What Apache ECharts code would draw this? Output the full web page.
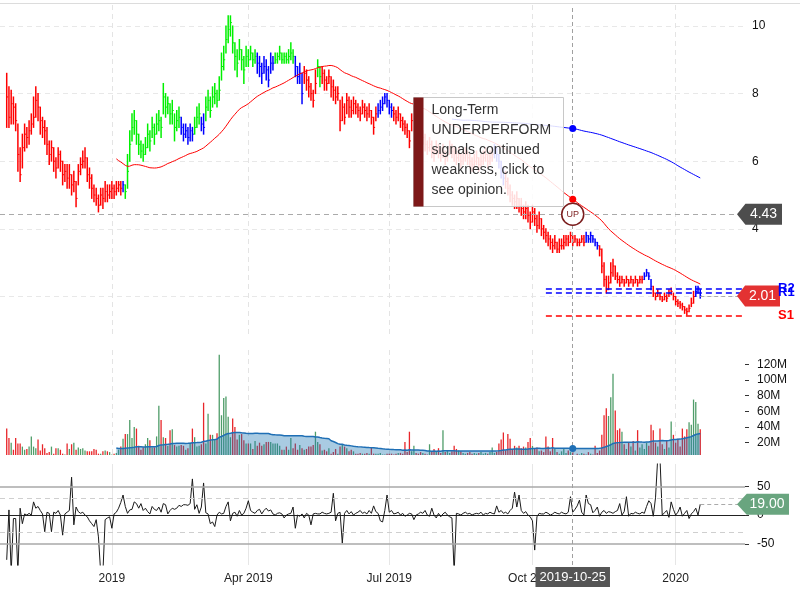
<!DOCTYPE html>
<html><head><meta charset="utf-8">
<script src="https://cdn.jsdelivr.net/npm/echarts@6/dist/echarts.min.js"></script>
<style>html,body{margin:0;padding:0;background:#fff}#c{width:800px;height:600px}</style>
</head><body><div id="c"></div>
<script>
// ---------------- DATA ----------------
const holidays = ['2018-11-22','2018-12-05','2018-12-25','2019-01-01','2019-01-21','2019-02-18','2019-04-19','2019-05-27','2019-07-04','2019-09-02','2019-11-28','2019-12-25','2020-01-01','2020-01-20','2020-02-17'];
const axisStart = '2018-10-18';
const axisLength = 334;
const dataStart = '2018-10-23';

const close = [7.9,7.3,7.7,7.6,7.2,6.2,5.6,6.4,6.8,6.7,6.9,7.1,7.3,7.8,7.6,7.2,7.0,6.9,6.5,6.2,
6.4,6.0,5.8,6.2,6.0,5.6,5.7,5.5,5.6,5.3,5.4,4.9,5.7,5.9,6.0,6.1,5.6,5.5,5.2,5.0,
4.9,4.7,5.0,4.9,5.1,5.0,5.1,5.2,5.1,5.2,5.3,5.2,5.3,5.1,5.7,6.5,7.0,7.2,6.8,6.5,
6.3,6.2,6.4,6.8,6.6,7.0,6.8,7.1,7.2,7.0,7.9,7.6,7.7,7.4,7.5,7.0,7.2,7.3,7.0,6.8,
6.9,6.7,6.9,6.8,7.0,7.3,7.4,7.1,7.0,7.6,7.8,7.5,7.9,8.0,7.8,8.1,8.8,9.0,9.6,9.9,
10.1,9.5,9.1,8.9,9.3,9.0,8.7,9.1,9.0,9.2,9.0,9.1,8.9,8.8,8.6,8.8,8.7,8.4,8.9,8.9,
9.0,9.1,9.2,9.0,9.1,9.0,9.1,9.2,9.1,8.8,8.5,8.6,8.0,8.6,8.4,8.2,8.0,7.8,8.3,8.8,
8.5,8.6,8.4,8.3,8.5,8.2,8.1,7.9,8.0,7.2,7.6,7.3,7.8,7.6,7.5,7.7,7.6,7.5,7.4,7.6,
7.5,7.4,7.5,7.3,7.0,7.4,7.5,7.6,7.7,7.9,7.8,7.6,7.5,7.4,7.3,7.4,7.2,7.1,7.0,6.9,
6.6,7.2,7.3,7.0,6.8,6.6,6.7,6.5,6.4,6.5,6.3,6.2,6.4,6.3,6.2,6.3,6.1,6.2,6.4,6.3,
6.2,6.1,6.2,6.0,6.1,6.2,6.1,6.0,5.9,6.0,6.1,5.9,6.0,6.1,6.2,6.0,6.1,6.2,6.3,6.2,
6.0,5.8,5.5,5.4,5.2,5.0,4.9,4.8,4.9,4.7,4.6,4.5,4.6,4.4,4.2,4.5,4.3,4.1,4.3,4.0,
3.9,3.8,3.7,3.6,3.5,3.6,3.4,3.5,3.5,3.6,3.7,3.6,3.8,3.6,3.7,3.6,3.6,3.7,3.6,3.8,
3.7,3.8,3.7,3.6,3.5,3.4,2.9,2.5,2.2,2.4,2.7,2.9,2.6,2.5,2.4,2.5,2.4,2.5,2.4,2.5,
2.4,2.5,2.4,2.5,2.5,2.6,2.7,2.6,2.3,2.1,2.0,2.1,2.0,1.9,2.0,1.95,2.1,2.15,2.0,1.85,
1.8,1.75,1.7,1.6,1.55,1.65,1.8,2.0,2.15,2.25,2.01];

const high = [8.6,8.2,8.1,7.9,7.7,7.1,6.4,6.8,7.1,7.0,7.2,7.4,7.9,8.2,8.0,7.6,7.3,7.2,7.0,6.6,
6.6,6.4,6.1,6.4,6.3,6.0,5.9,5.9,5.9,5.6,5.7,5.4,5.9,6.1,6.3,6.4,6.1,5.8,5.6,5.3,
5.2,5.0,5.2,5.2,5.4,5.3,5.3,5.4,5.3,5.4,5.4,5.4,5.4,5.3,6.2,6.9,7.4,7.5,7.2,6.8,
6.6,6.5,6.7,7.1,6.9,7.3,7.1,7.4,7.5,7.3,8.3,8.0,7.9,7.7,7.8,7.4,7.5,7.6,7.3,7.1,
7.1,7.0,7.1,7.0,7.3,7.6,7.7,7.3,7.4,7.9,8.1,7.9,8.2,8.3,8.1,8.5,9.2,9.4,10.0,10.3,
10.3,10.0,9.5,9.3,9.6,9.3,9.1,9.4,9.3,9.4,9.2,9.3,9.2,9.1,8.9,9.1,9.0,8.8,9.2,9.1,
9.2,9.2,9.4,9.2,9.2,9.2,9.3,9.5,9.3,9.1,8.8,8.9,8.6,8.8,8.7,8.5,8.3,8.1,8.7,9.0,
8.8,8.8,8.7,8.5,8.7,8.5,8.4,8.2,8.2,7.8,7.9,7.7,8.0,7.9,7.8,7.9,7.8,7.7,7.6,7.8,
7.7,7.6,7.7,7.5,7.3,7.6,7.7,7.8,7.9,8.0,8.0,7.8,7.7,7.6,7.5,7.6,7.4,7.3,7.2,7.1,
6.9,7.4,7.5,7.3,7.0,6.9,6.9,6.8,6.6,6.7,6.6,6.4,6.6,6.5,6.4,6.5,6.3,6.4,6.6,6.5,
6.4,6.3,6.4,6.2,6.3,6.4,6.3,6.2,6.1,6.2,6.3,6.1,6.2,6.3,6.4,6.2,6.3,6.4,6.5,6.4,
6.2,6.0,5.8,5.7,5.5,5.3,5.1,5.0,5.1,4.9,4.9,4.7,4.8,4.7,4.5,4.7,4.6,4.4,4.5,4.3,
4.1,4.0,3.9,3.8,3.7,3.8,3.6,3.7,3.7,3.8,3.8,3.8,3.9,3.8,3.8,3.7,3.7,3.8,3.8,3.9,
3.8,3.9,3.8,3.7,3.6,3.5,3.4,3.0,2.6,2.6,3.0,3.1,2.9,2.7,2.6,2.6,2.5,2.6,2.5,2.6,
2.5,2.6,2.5,2.6,2.6,2.7,2.8,2.7,2.5,2.3,2.1,2.2,2.1,2.0,2.1,2.05,2.2,2.25,2.1,2.0,
1.9,1.85,1.8,1.7,1.65,1.75,1.95,2.15,2.3,2.3,2.2];

const low = [7.0,7.0,7.1,7.1,6.9,5.7,5.4,5.8,6.3,6.4,6.5,6.8,7.0,7.3,7.2,6.8,6.7,6.5,6.2,5.9,
6.0,5.7,5.5,5.8,5.7,5.3,5.4,5.2,5.2,5.0,5.1,4.65,5.3,5.6,5.8,5.8,5.4,5.2,4.9,4.8,
4.7,4.5,4.7,4.6,4.8,4.8,4.9,4.9,4.9,5.0,5.1,5.0,5.1,4.9,5.2,6.0,6.6,6.8,6.5,6.2,
6.1,6.0,6.2,6.4,6.3,6.7,6.5,6.8,6.9,6.7,7.4,7.3,7.4,7.1,7.1,6.6,6.9,7.0,6.8,6.6,
6.7,6.5,6.6,6.6,6.8,7.0,7.1,6.9,6.8,7.2,7.5,7.3,7.6,7.7,7.6,7.8,8.4,8.7,9.2,9.5,
9.7,9.2,8.7,8.5,9.0,8.7,8.3,8.8,8.8,9.0,8.8,8.9,8.6,8.5,8.3,8.6,8.4,8.2,8.6,8.7,
8.9,8.9,9.0,8.9,8.9,8.9,8.9,9.0,8.9,8.5,8.3,8.3,7.7,8.3,8.1,7.9,7.8,7.6,8.0,8.5,
8.2,8.3,8.1,8.1,8.3,7.9,7.8,7.7,7.8,6.9,7.2,7.1,7.4,7.3,7.3,7.4,7.4,7.3,7.2,7.4,
7.3,7.2,7.3,7.1,6.8,7.2,7.3,7.4,7.5,7.7,7.6,7.4,7.3,7.2,7.1,7.2,7.0,6.9,6.8,6.7,
6.4,6.9,7.0,6.8,6.6,6.4,6.5,6.3,6.2,6.3,6.1,6.0,6.2,6.1,6.0,6.1,5.9,6.0,6.2,6.1,
6.0,5.9,6.0,5.8,5.9,6.0,5.9,5.8,5.7,5.8,5.9,5.7,5.8,5.9,6.0,5.8,5.9,6.0,6.1,6.0,
5.8,5.5,5.3,5.2,5.0,4.8,4.7,4.6,4.6,4.5,4.4,4.3,4.3,4.2,4.0,4.2,4.1,3.9,4.0,3.8,
3.7,3.6,3.5,3.4,3.3,3.4,3.3,3.3,3.4,3.4,3.5,3.5,3.6,3.5,3.6,3.5,3.5,3.6,3.5,3.6,
3.6,3.6,3.6,3.5,3.4,3.2,2.7,2.3,2.1,2.2,2.4,2.6,2.5,2.4,2.3,2.4,2.3,2.4,2.3,2.4,
2.3,2.4,2.3,2.4,2.4,2.5,2.6,2.5,2.2,2.0,1.9,2.0,1.9,1.85,1.9,1.85,2.0,2.05,1.9,1.75,
1.7,1.65,1.6,1.5,1.45,1.55,1.7,1.8,2.0,2.1,1.95];

// rating runs: U = underperform, O = outperform, N = neutral  [rating, number of days]
const ratingRuns = [['U',52],['N',1],['O',25],['N',6],['O',3],['N',2],['O',23],['N',8],['O',9],['N',4],['U',6],['O',2],['U',25],['N',7],['U',45],['N',5],['U',36],['N',6],['U',20],['N',4],['U',19],['N',3]];

// daily volume, millions
const volume = [38,26,20,11,26,19,19,15,11,12,15,28,15,13,24,10,18,13,7,8,
15,6,13,13,11,6,5,19,12,18,20,11,14,12,13,10,9,9,9,12,
11,6,6,9,10,9,8,5,6,7,11,15,25,31,31,49,26,40,38,16,
11,14,18,26,23,14,14,28,67,49,27,26,16,36,37,17,15,16,17,16,
11,13,20,38,27,15,16,18,71,19,57,30,30,24,32,132,55,77,79,53,
27,51,40,24,30,31,23,19,19,19,12,22,16,20,16,18,21,21,21,19,
19,19,16,11,11,15,11,26,13,19,11,17,13,11,12,15,15,17,34,21,
18,10,11,9,13,6,8,12,6,15,18,15,13,9,11,9,6,6,7,6,
6,7,6,14,6,6,6,7,5,5,6,6,6,5,6,7,7,6,21,8,
34,9,16,7,6,8,7,6,5,18,9,12,8,13,7,36,8,10,7,9,
16,12,10,9,7,6,7,8,6,7,6,7,8,6,7,6,8,14,7,8,
19,24,33,10,31,25,12,16,14,16,13,15,14,21,26,16,13,14,9,10,
8,28,15,9,26,12,8,6,9,13,7,10,8,9,4,6,5,7,6,5,
8,6,5,16,7,10,30,55,64,54,78,108,61,36,38,34,18,12,20,15,
22,10,36,14,18,12,20,16,43,36,20,15,38,18,12,22,14,47,30,20,
25,15,38,28,37,46,43,75,72,44,37];

const oscillator = [-78,9,-100,-6,-6,-100,12,-15,2,0,3,0,23,12,15,8,2,-29,5,3,
-29,5,3,8,0,-35,2,5,8,66,-17,14,6,3,5,0,-3,-10,-15,-20,
-8,-38,-100,-100,-8,-5,-3,-23,2,5,12,22,35,15,3,9,10,23,20,12,
20,8,12,6,2,15,10,8,14,5,20,18,2,8,12,10,12,17,15,18,
18,17,20,63,10,18,3,14,56,4,2,-15,-12,-20,0,5,2,3,15,23,
-10,3,5,-2,8,0,3,12,25,8,5,3,8,10,2,8,12,7,9,2,
0,3,4,2,-5,0,2,3,14,-23,0,-2,2,-5,3,0,-17,2,3,2,
2,5,3,2,3,5,38,-10,3,5,-49,3,8,2,6,0,3,5,8,3,
5,2,8,3,16,6,3,-10,-12,8,35,5,8,2,3,5,0,3,-2,0,
3,2,-8,0,2,5,3,8,0,-2,12,0,-5,3,-3,2,5,0,-3,-5,
-100,3,2,0,3,5,2,3,0,2,3,2,5,0,3,2,5,3,2,16,
5,8,3,5,2,8,12,40,14,35,8,3,6,0,-3,-10,-61,-3,3,2,
2,5,3,0,2,5,3,2,5,3,2,5,32,5,10,16,26,5,0,35,
20,18,4,8,14,-2,5,8,3,6,5,3,6,8,20,0,6,32,-2,3,
2,5,3,2,5,3,15,25,20,-2,30,100,100,0,4,8,-4,23,10,0,
5,14,-2,3,8,-6,2,6,12,0,19];

const crosshairDate = '2019-10-25';
const crosshairPrice = 4.43;
const eventMarker = { date: '2019-10-25', price: 4.43, text: 'UP' };
const levelStart = '2019-10-09';
const levels = [{ name: 'R2', value: 2.23, kind: 'R' }, { name: 'R1', value: 2.11, kind: 'R' }, { name: 'S1', value: 1.44, kind: 'S' }];
const volumeTicks = [20, 40, 60, 80, 100, 120];
const oscTicks = [-50, 0, 50];
const oscBands = [50, -50];
const oscGuides = [30, -30];
const noteLines = ['Long-Term', 'UNDERPERFORM', 'signals continued', 'weakness, click to', 'see opinion.'];
const monthNames = ['Jan','Feb','Mar','Apr','May','Jun','Jul','Aug','Sep','Oct','Nov','Dec'];

// ---------------- BUILD ----------------
function tradingDays(start, count, hol) {
  const out = [], h = new Set(hol); const d = new Date(start + 'T00:00:00Z');
  while (out.length < count) {
    const wd = d.getUTCDay(); const s = d.toISOString().slice(0, 10);
    if (wd !== 0 && wd !== 6 && !h.has(s)) out.push(s);
    d.setUTCDate(d.getUTCDate() + 1);
  }
  return out;
}
const categories = tradingDays(axisStart, axisLength, holidays);
const N = categories.length;
const off = categories.indexOf(dataStart);
const lastCat = categories[N - 1];
const lastDate = categories[off + close.length - 1];
const ci = categories.indexOf(crosshairDate) - off;

const quarterIdx = new Set();
categories.forEach((d, i) => {
  if (i === 0) return;
  const m = +d.slice(5, 7), pm = +categories[i - 1].slice(5, 7);
  if (m !== pm && (m - 1) % 3 === 0) quarterIdx.add(i);
});
const qInterval = (i) => quarterIdx.has(i);

function pad(arr) { const o = new Array(N).fill(null); arr.forEach((v, i) => { o[off + i] = v; }); return o; }
function sma(arr, n) {
  return arr.map((v, i) => { if (i < n - 1) return null; let s = 0; for (let k = i - n + 1; k <= i; k++) s += arr[k]; return +(s / n).toFixed(4); });
}
const ratings = []; ratingRuns.forEach(([r, c]) => { for (let k = 0; k < c; k++) ratings.push(r); });
const sma50 = sma(close, 50), sma200 = sma(close, 200), volSma = sma(volume, 50);

// ---------------- STYLE ----------------
const FONT = 'Liberation Sans, Arial, sans-serif';
const RC = { U: '#ff0000', O: '#00f000', N: '#0000ff' };
const VUP = '#4f9d69', VDN = '#e8262a';
const GRID_R = 55;
const splitDashed = { show: true, interval: qInterval, lineStyle: { color: '#e4e4e4', type: [5, 4] } };
const badgePath = 'path://M0,10L9,0L48,0L48,20L9,20Z';
function badge(coord, text, color, w, offX) {
  return { coord, symbol: badgePath, symbolSize: [w, 21], symbolKeepAspect: false, symbolOffset: [offX, 0],
    itemStyle: { color }, label: { show: true, position: 'inside', offset: [4, 0], formatter: text, color: '#fff', fontSize: 14, fontFamily: FONT } };
}

function xAxis(gi, extra) {
  return Object.assign({ type: 'category', gridIndex: gi, data: categories, boundaryGap: false,
    axisLine: { show: false }, axisTick: { show: false }, axisLabel: { show: false }, splitLine: splitDashed }, extra || {});
}

const option = {
  animation: false,
  textStyle: { fontFamily: FONT },
  grid: [
    { left: 0, right: GRID_R, top: 5, height: 330 },
    { left: 0, right: GRID_R, top: 350, height: 105 },
    { left: 0, right: GRID_R, top: 464, height: 101 },
    { left: 0, right: GRID_R, top: 5, height: 560 }
  ],
  xAxis: [
    xAxis(0), xAxis(1),
    xAxis(2, {
      axisLine: { show: true, lineStyle: { color: '#222', width: 1 } },
      axisLabel: { show: true, interval: qInterval, color: '#222', fontSize: 12, margin: 8,
        formatter: (v) => { const m = +v.slice(5, 7); return m === 1 ? v.slice(0, 4) : monthNames[m - 1] + ' ' + v.slice(0, 4); } },
      splitLine: { show: true, interval: qInterval, lineStyle: { color: '#e6e6e6' } }
    }),
    xAxis(3, { splitLine: { show: false } })
  ],
  yAxis: [
    { type: 'value', gridIndex: 0, position: 'right', min: 0.86, max: 10.62, minInterval: 2, maxInterval: 2,
      axisLine: { show: false }, axisTick: { show: false },
      axisLabel: { color: '#111', fontSize: 12, margin: 7, showMinLabel: false, showMaxLabel: false },
      splitLine: { show: true, showMinLine: false, showMaxLine: false, lineStyle: { color: '#e8e8e8', type: [5, 4] } } },
    { type: 'value', gridIndex: 1, position: 'right', min: 4.3, max: 138.2,
      axisLine: { show: false },
      axisTick: { show: true, length: 4, lineStyle: { color: '#333' }, customValues: volumeTicks },
      axisLabel: { color: '#111', fontSize: 12, margin: 12, customValues: volumeTicks, formatter: (v) => v + 'M' },
      splitLine: { show: false } },
    { type: 'value', gridIndex: 2, position: 'right', min: -87, max: 89,
      axisLine: { show: false },
      axisTick: { show: true, length: 4, lineStyle: { color: '#333' }, customValues: oscTicks },
      axisLabel: { color: '#111', fontSize: 12, margin: 12, customValues: oscTicks },
      splitLine: { show: false } },
    { type: 'value', gridIndex: 3, min: 0, max: 1, show: false }
  ],
  series: [
    { type: 'custom', name: 'price', xAxisIndex: 0, yAxisIndex: 0, z: 2,
      data: close.map((c, i) => [off + i, high[i], low[i], c, i]),
      encode: { x: 0, y: [1, 2] },
      renderItem: (params, api) => {
        const x = api.value(0);
        const hi = api.coord([x, api.value(1)]), lo = api.coord([x, api.value(2)]), cl = api.coord([x, api.value(3)]);
        const col = RC[ratings[api.value(4)]];
        return { type: 'group', children: [
          { type: 'line', shape: { x1: hi[0], y1: hi[1] - 0.5, x2: lo[0], y2: lo[1] + 0.5 }, style: { stroke: col, lineWidth: 1.5 } },
          { type: 'line', shape: { x1: cl[0], y1: cl[1], x2: cl[0] + 1.5, y2: cl[1] }, style: { stroke: col, lineWidth: 1 } }
        ] };
      },
      markLine: { silent: true, symbol: ['none', 'none'], label: { show: false },
        data: [
          { yAxis: crosshairPrice, lineStyle: { color: '#aaa', type: [5, 4], width: 1 } },
          ...levels.map(l => {
            const col = l.kind === 'R' ? '#0000ff' : '#ff0000';
            return [{ coord: [levelStart, l.value], lineStyle: { color: col, type: [6, 4], width: 1.5 },
              label: { show: true, position: 'end', formatter: l.name, color: col, fontWeight: 'bold', fontSize: 13, distance: 33 } },
              { coord: [lastCat, l.value] }];
          }),
          [{ coord: [lastDate, close[close.length - 1]], lineStyle: { color: '#aaa', type: [4, 3], width: 1 } }, { coord: [lastCat, close[close.length - 1]] }]
        ] }
    },
    { type: 'line', name: 'SMA50', xAxisIndex: 0, yAxisIndex: 0, z: 3, data: pad(sma50), showSymbol: false,
      lineStyle: { color: '#ff0000', width: 1 }, itemStyle: { color: '#ff0000' },
      markPoint: { silent: true, data: [
        { coord: [crosshairDate, sma50[ci]], symbol: 'circle', symbolSize: 7, itemStyle: { color: '#ff0000' }, label: { show: false } },
        { coord: [eventMarker.date, eventMarker.price], symbol: 'circle', symbolSize: 22,
          itemStyle: { color: '#fff', borderColor: '#7a1c1c', borderWidth: 1.5 },
          label: { show: true, position: 'inside', formatter: eventMarker.text, color: '#7a1c1c', fontSize: 9 } },
        badge([lastCat, crosshairPrice], crosshairPrice.toFixed(2), '#4d4d4d', 45, 14.5),
        badge([lastCat, close[close.length - 1]], close[close.length - 1].toFixed(2), '#e33232', 43, 13.5)
      ] } },
    { type: 'line', name: 'SMA200', xAxisIndex: 0, yAxisIndex: 0, z: 3, data: pad(sma200), showSymbol: false,
      lineStyle: { color: '#0000ff', width: 1 }, itemStyle: { color: '#0000ff' },
      markPoint: { silent: true, data: [
        { coord: [crosshairDate, sma200[ci]], symbol: 'circle', symbolSize: 7, itemStyle: { color: '#0000ff' }, label: { show: false } }
      ] } },
    { type: 'bar', name: 'Volume', xAxisIndex: 1, yAxisIndex: 1, barWidth: 1.3, z: 2,
      data: pad(volume.map((v, i) => ({ value: v, itemStyle: { color: i > 0 && close[i] >= close[i - 1] ? VUP : VDN } }))) },
    { type: 'line', name: 'VolMA', xAxisIndex: 1, yAxisIndex: 1, z: 3, data: pad(volSma), showSymbol: false,
      lineStyle: { color: '#1f6fb5', width: 1.5 }, itemStyle: { color: '#1f6fb5' },
      areaStyle: { color: 'rgba(31,119,180,0.55)' },
      markPoint: { silent: true, data: [
        { coord: [crosshairDate, volSma[ci]], symbol: 'circle', symbolSize: 7, itemStyle: { color: '#1f6fb5' }, label: { show: false } }
      ] } },
    { type: 'line', name: 'Osc', xAxisIndex: 2, yAxisIndex: 2, z: 3, data: pad(oscillator), showSymbol: false,
      lineStyle: { color: '#1a1a1a', width: 1 }, itemStyle: { color: '#1a1a1a' },
      markLine: { silent: true, symbol: ['none', 'none'], label: { show: false },
        data: [
          ...oscBands.map(v => ({ yAxis: v, lineStyle: { color: '#a8a8a8', type: 'solid', width: 1.5 } })),
          ...oscGuides.map(v => ({ yAxis: v, lineStyle: { color: '#cfcfcf', type: [5, 4], width: 1 } })),
          [{ coord: [lastDate, oscillator[oscillator.length - 1]], lineStyle: { color: '#aaa', type: [4, 3], width: 1 } }, { coord: [lastCat, oscillator[oscillator.length - 1]] }]
        ] },
      markPoint: { silent: true, data: [
        badge([lastCat, oscillator[oscillator.length - 1]], oscillator[oscillator.length - 1].toFixed(2), '#69a57f', 52, 18)
      ] } },
    { type: 'line', name: 'crosshair', xAxisIndex: 3, yAxisIndex: 3, data: [], z: 4,
      markLine: { silent: true, symbol: ['none', 'none'],
        data: [{ xAxis: crosshairDate, lineStyle: { color: '#a0a0a0', type: [4, 3], width: 1 },
          label: { show: true, position: 'start', formatter: crosshairDate, backgroundColor: '#555', color: '#fff',
            padding: [4, 4, 3, 4], fontSize: 13, distance: 2 } }] } }
  ],
  graphic: [
    { type: 'line', shape: { x1: 0, y1: 3.5, x2: 800, y2: 3.5 }, style: { stroke: '#dcdcdc', lineWidth: 1 }, silent: true },
    { type: 'group', left: 413, top: 97, z: 100, zlevel: 1, children: [
      { type: 'rect', z: 100, zlevel: 1, shape: { x: 0, y: 0, width: 150, height: 109 }, style: { fill: 'rgba(255,255,255,0.86)', stroke: '#c8c8c8', lineWidth: 1 } },
      { type: 'rect', z: 101, zlevel: 1, shape: { x: 0, y: 0, width: 10, height: 109 }, style: { fill: '#7d1818' } },
      { type: 'text', z: 102, zlevel: 1, x: 18, y: 3, style: { text: noteLines.join('\n'), font: '14px ' + FONT, fill: '#333', lineHeight: 20 } }
    ] }
  ]
};
const chart = echarts.init(document.getElementById('c'));
chart.setOption(option);
</script>
</body></html>
